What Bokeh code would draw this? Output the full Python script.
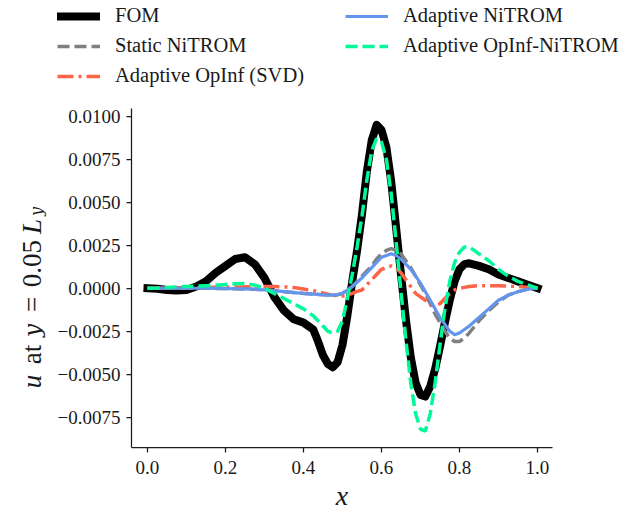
import math
from bokeh.plotting import figure
from bokeh.layouts import row, column
from bokeh.models import (Range1d, FixedTicker, Legend, LegendItem, Label)
from bokeh.embed import file_html
from bokeh.resources import INLINE

# ---------------- data ----------------
x = [0.0, 0.025, 0.05, 0.075, 0.1, 0.125, 0.15, 0.175, 0.2, 0.225,
     0.25, 0.275, 0.3, 0.325, 0.35, 0.375, 0.4, 0.425, 0.4375, 0.45,
     0.4625, 0.475, 0.4875, 0.5, 0.5125, 0.525, 0.5375, 0.55, 0.5625, 0.575,
     0.5875, 0.6, 0.6125, 0.625, 0.6375, 0.65, 0.6625, 0.675, 0.6875, 0.7,
     0.7125, 0.725, 0.7375, 0.75, 0.7625, 0.775, 0.7875, 0.8, 0.8125, 0.825,
     0.85, 0.875, 0.9, 0.925, 0.95, 0.975, 1.0]

fom = [0.0, -0.00003, -0.0001, -0.00013, -0.0001, 0.0001, 0.0004, 0.0009, 0.0013, 0.0017,
       0.0018, 0.0014, 0.0006, -0.0005, -0.0013, -0.0018, -0.0020, -0.0024, -0.0031, -0.0039,
       -0.0044, -0.0046, -0.0043, -0.0033, -0.0016, 0.0004, 0.0022, 0.0043, 0.0068, 0.0086,
       0.0095, 0.0092, 0.0082, 0.0062, 0.0035, 0.0008, -0.0018, -0.0040, -0.0055, -0.0062,
       -0.0063, -0.0057, -0.0047, -0.0034, -0.0020, -0.0007, 0.0004, 0.0011, 0.0014, 0.00145,
       0.0013, 0.0011, 0.0008, 0.0006, 0.0004, 0.0002, 0.0]

static_nitrom = [0.0, 0.0, 0.0, 0.0, 0.0, 0.0, 0.0, -0.00001, -0.00002, -0.00003,
                 -0.00004, -0.00006, -0.0001, -0.00014, -0.0002, -0.00025, -0.0003, -0.00034, -0.00036, -0.00038,
                 -0.0004, -0.0004, -0.00038, -0.0003, -0.0001, 0.0001, 0.0004, 0.0007, 0.0010, 0.0013,
                 0.0017, 0.0020, 0.0022, 0.0023, 0.0022, 0.0020, 0.0016, 0.0012, 0.0007, 0.0002,
                 -0.0003, -0.0009, -0.0015, -0.0020, -0.0025, -0.0029, -0.0031, -0.0031, -0.0029, -0.0026,
                 -0.0019, -0.0013, -0.0008, -0.0004, -0.0002, -0.00005, 0.0]

opinf_svd = [0.0, 0.0, 0.00001, 0.00002, 0.00002, 0.00003, 0.00004, 0.00005, 0.00006, 0.00007,
             0.00008, 0.0001, 0.0001, 0.0001, 0.00008, 0.00004, -0.00005, -0.00015, -0.0002, -0.00028,
             -0.00035, -0.0004, -0.00045, -0.00045, -0.0004, -0.0003, -0.00018, -0.0001, 0.0002, 0.0005,
             0.0008, 0.0011, 0.0012, 0.0013, 0.0012, 0.0009, 0.0005, 0.0001, -0.0003, -0.0005,
             -0.0007, -0.0009, -0.0010, -0.0009, -0.0006, -0.0003, -0.0001, 0.0, 0.00005, 0.0001,
             0.00015, 0.00015, 0.00015, 0.00012, 0.0001, 0.00005, 0.0]

adaptive_nitrom = [0.0, 0.0, 0.0, 0.0, 0.0, 0.0, 0.0, -0.00001, -0.00002, -0.00003,
                   -0.00004, -0.00006, -0.0001, -0.00014, -0.0002, -0.00025, -0.0003, -0.00034, -0.00036, -0.00038,
                   -0.0004, -0.0004, -0.00038, -0.0003, -0.0001, 0.0001, 0.00035, 0.0006, 0.0009, 0.0012,
                   0.0015, 0.0018, 0.0019, 0.0020, 0.0019, 0.0017, 0.0014, 0.0011, 0.0007, 0.0003,
                   -0.0002, -0.0007, -0.0012, -0.0017, -0.0021, -0.0025, -0.0027, -0.0026, -0.0024, -0.0022,
                   -0.0017, -0.0012, -0.0007, -0.0004, -0.0002, -0.00005, 0.0]

opinf_nitrom = [0.0, 0.00002, 0.00005, 0.00008, 0.0001, 0.00012, 0.00015, 0.00018, 0.00022, 0.00026,
                0.00027, 0.00018, 0.0, -0.0003, -0.0006, -0.0009, -0.0012, -0.0016, -0.0019, -0.0022,
                -0.0025, -0.0026, -0.0025, -0.0019, -0.0006, 0.0008, 0.0024, 0.0042, 0.0063, 0.0080,
                0.0087, 0.0085, 0.0075, 0.0055, 0.0027, -0.0002, -0.0030, -0.0055, -0.0073, -0.0082,
                -0.0083, -0.0073, -0.0055, -0.0033, -0.0012, 0.0004, 0.0015, 0.0021, 0.0024, 0.0024,
                0.0020, 0.0016, 0.0011, 0.0007, 0.0004, 0.0002, 0.0]

series_names = ["FOM", "Static NiTROM", "Adaptive OpInf (SVD)",
                "Adaptive NiTROM", "Adaptive OpInf-NiTROM"]

x_ticks = [0.0, 0.2, 0.4, 0.6, 0.8, 1.0]
x_tick_labels = ["0.0", "0.2", "0.4", "0.6", "0.8", "1.0"]
y_ticks = [-0.0075, -0.005, -0.0025, 0.0, 0.0025, 0.005, 0.0075, 0.01]
y_tick_labels = ["\u22120.0075", "\u22120.0050", "\u22120.0025", "0.0000",
                 "0.0025", "0.0050", "0.0075", "0.0100"]

FONT = "Liberation Serif"
MATH_FONT = "DejaVu Serif"
INK = "#1a1a1a"
W, H = 625, 514
LEG_H = 90
LEFT_W = 54
FRAME_BOTTOM = 447   # page y of the shared frame bottom (rows align frames)

styles = [dict(line_color="black", line_width=8, line_cap="square", line_join="round"),
          dict(line_color="#808080", line_width=3.5, line_dash="12 5"),
          dict(line_color="#FF6347", line_width=3.5, line_dash="16 5 3 5"),
          dict(line_color="#6495ED", line_width=3.2, line_join="round"),
          dict(line_color="#00FA9A", line_width=3.5, line_dash="12 5")]
series = [fom, static_nitrom, opinf_svd, adaptive_nitrom, opinf_nitrom]


def bare(fig):
    fig.outline_line_color = None
    fig.xgrid.visible = False
    fig.ygrid.visible = False
    fig.background_fill_color = "white"
    fig.border_fill_color = "white"


# ---------------- main figure ----------------
p = figure(width=W - LEFT_W, height=H - LEG_H, output_backend="svg", toolbar_location=None,
           x_range=Range1d(-0.041, 1.0385), y_range=Range1d(-0.00926, 0.01045),
           min_border_left=131 - LEFT_W, min_border_right=73, min_border_top=108 - LEG_H,
           min_border_bottom=67)
bare(p)

for ys, st in zip(series, styles):
    p.line(x, ys, **st)

for ax, ticks, labels in ((p.xaxis[0], x_ticks, x_tick_labels), (p.yaxis[0], y_ticks, y_tick_labels)):
    ax.ticker = FixedTicker(ticks=ticks)
    ax.major_label_overrides = {t: l for t, l in zip(ticks, labels)}
    ax.minor_tick_line_color = None
    ax.major_tick_in = 0
    ax.major_tick_out = 5
    ax.major_tick_line_width = 1.25
    ax.axis_line_width = 1.25
    ax.axis_line_color = INK
    ax.major_tick_line_color = INK
    ax.major_label_text_font = FONT
    ax.major_label_text_font_size = "19px"
    ax.major_label_text_color = INK
p.xaxis.major_label_standoff = 8
p.yaxis.major_label_standoff = 6

p.xaxis.axis_label = "x"
p.xaxis.axis_label_text_font = FONT
p.xaxis.axis_label_text_font_style = "italic"
p.xaxis.axis_label_text_font_size = "28px"
p.xaxis.axis_label_text_color = INK
p.xaxis.axis_label_standoff = 3

# ---------------- legend strip (top) ----------------
lg = figure(width=W, height=LEG_H, output_backend="svg", toolbar_location=None,
            x_range=Range1d(0, 1), y_range=Range1d(0, 1),
            min_border_left=0, min_border_right=0, min_border_top=0, min_border_bottom=0,
            x_axis_type=None, y_axis_type=None)
bare(lg)
# legend proxies: lines lying outside this strip's ranges, so only their legend swatches show
proxies = [lg.line([-5, -4], [-5, -4], **st) for st in styles]
legend = Legend(items=[LegendItem(label=n, renderers=[r]) for n, r in zip(series_names, proxies)],
                ncols=2, location=(57, 3),
                glyph_width=43, glyph_height=20, label_height=20, label_width=223,
                label_standoff=15, spacing=7, padding=0, margin=0,
                border_line_color=None, background_fill_alpha=0,
                label_text_font=FONT, label_text_font_size="20.5px",
                label_text_color=INK)
lg.add_layout(legend)

# ---------------- y-axis label strip (left) ----------------
q = figure(width=LEFT_W, height=H - LEG_H, output_backend="svg", toolbar_location=None,
           x_range=Range1d(0, 1), y_range=Range1d(0, 1),
           min_border_left=0, min_border_right=0, min_border_top=0, min_border_bottom=0,
           x_axis_type=None, y_axis_type=None)
bare(q)

# (text, font, style, size, page centre y, baseline x)
ylab_parts = [("u", FONT, "italic", "27px", 381, 31),
              ("at", FONT, "normal", "27px", 354, 31),
              ("y", MATH_FONT, "italic", "23px", 330, 31),
              ("=", FONT, "normal", "27px", 304, 31),
              ("0.05", FONT, "normal", "27px", 263, 31),
              ("L", FONT, "italic", "27px", 226, 31),
              ("y", MATH_FONT, "italic", "16px", 211, 36)]
for txt, fnt, style, size, yy, xx in ylab_parts:
    q.add_layout(Label(x=xx, y=FRAME_BOTTOM - yy, x_units="screen", y_units="screen", text=txt,
                       angle=math.pi / 2, text_font=fnt, text_font_style=style,
                       text_font_size=size, text_align="center", text_baseline="alphabetic",
                       text_color=INK))

layout = column(lg, row(q, p, spacing=0), spacing=0)
open("out.html", "w").write(file_html(layout, INLINE))
